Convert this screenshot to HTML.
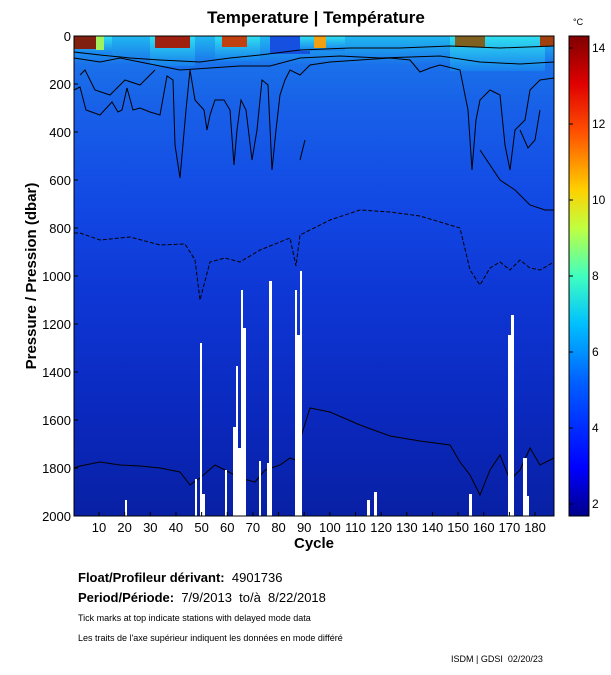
<!DOCTYPE html>
<html><head><style>
body{margin:0;background:#fff;width:611px;height:675px;overflow:hidden;font-family:"Liberation Sans",sans-serif}
.t{position:absolute;color:#000;white-space:nowrap}
</style></head><body>
<div style="position:relative;width:611px;height:675px">
<svg width="611" height="675" style="position:absolute;left:0;top:0" font-family="Liberation Sans, sans-serif">
<defs>
<linearGradient id="bg" x1="0" y1="0" x2="0" y2="1">
<stop offset="0" stop-color="#20b8f0"/>
<stop offset="0.06" stop-color="#1a70ea"/>
<stop offset="0.15" stop-color="#1860e8"/>
<stop offset="0.35" stop-color="#1248e4"/>
<stop offset="0.55" stop-color="#0e36d4"/>
<stop offset="0.8" stop-color="#0a28bc"/>
<stop offset="1" stop-color="#0820a4"/>
</linearGradient>
<linearGradient id="cb" x1="0" y1="1" x2="0" y2="0">
<stop offset="0" stop-color="#00008a"/>
<stop offset="0.1" stop-color="#0000ff"/>
<stop offset="0.28" stop-color="#0060ff"/>
<stop offset="0.4" stop-color="#00c0ff"/>
<stop offset="0.5" stop-color="#40ffc0"/>
<stop offset="0.6" stop-color="#c0ff40"/>
<stop offset="0.68" stop-color="#ffd000"/>
<stop offset="0.8" stop-color="#ff5000"/>
<stop offset="0.9" stop-color="#e00000"/>
<stop offset="1" stop-color="#800000"/>
</linearGradient>
<linearGradient id="top" x1="0" y1="0" x2="0" y2="1">
<stop offset="0" stop-color="#30e0f0"/>
<stop offset="1" stop-color="#1880ee"/>
</linearGradient>
</defs>
<rect x="74" y="36" width="480" height="480" fill="url(#bg)"/>
<rect x="74" y="36" width="38" height="18" fill="url(#top)"/>
<rect x="74" y="36" width="22" height="13" fill="#802010"/>
<rect x="96" y="36" width="8" height="14" fill="#a0f060"/>
<rect x="150" y="36" width="45" height="30" fill="url(#top)"/>
<rect x="155" y="36" width="35" height="12" fill="#a02010"/>
<rect x="215" y="36" width="45" height="25" fill="url(#top)"/>
<rect x="222" y="36" width="25" height="11" fill="#c04010"/>
<rect x="270" y="36" width="40" height="18" fill="#1650e0"/>
<rect x="300" y="36" width="45" height="15" fill="url(#top)"/>
<rect x="314" y="36" width="12" height="12" fill="#f0a010"/>
<rect x="450" y="36" width="95" height="35" fill="url(#top)"/>
<rect x="455" y="36" width="30" height="11" fill="#806020"/>
<rect x="540" y="36" width="14" height="10" fill="#a04010"/>
<g fill="none" stroke="#000" stroke-width="1">
<path d="M74 52 L100 55 L130 58 L160 60 L200 62 L230 58 L260 55 L300 50 L350 48 L400 48 L450 46 L500 48 L554 46"/>
<path d="M74 58 L100 62 L120 58 L150 64 L180 70 L210 68 L240 66 L270 66 L300 58 L340 56 L380 58 L440 56 L480 62 L520 64 L554 62"/>
<path d="M74 90 L80 87 L86 110 L100 115 L112 102 L118 112 L122 110 L127 88 L133 110 L140 108 L150 112 L160 115 L167 76 L173 80 L175 145 L180 178 L186 110 L190 70 L195 100 L204 110 L207 130 L210 115 L215 100 L224 100 L230 110 L234 165 L237 130 L241 100 L246 110 L252 160 L257 130 L262 80 L268 85 L272 170 L276 130 L280 95 L285 80 L290 70 L300 75 L310 65 L330 62 L360 60 L390 58 L410 60 L420 72 L430 68 L440 65 L460 70 L468 110 L472 170 L476 120 L480 100 L490 90 L500 95 L505 145 L510 170 L515 130 L525 120 L530 90 L540 80 L554 78"/>
<path d="M80 75 L85 70 L95 90 L110 95 L125 80 L140 85 L155 70"/>
<path d="M300 160 L305 140"/>
<path d="M520 130 L528 148 L535 140 L540 110"/>
<path d="M480 150 L490 165 L500 180 L515 190 L530 205 L545 210 L554 210"/>
<path d="M74 233 L80 233 L100 240 L130 237 L160 245 L185 244 L195 260 L200 300 L210 262 L225 258 L240 262 L260 250 L275 244 L290 238 L296 266 L300 235 L330 220 L360 210 L390 212 L420 216 L460 228 L470 270 L480 285 L490 268 L500 262 L510 270 L520 260 L530 268 L540 270 L554 262" stroke-dasharray="4,2"/>
<path d="M74 468 L80 466 L100 462 L120 465 L140 466 L160 468 L180 472 L190 485 L200 478 L215 465 L225 470 L240 478 L255 482 L265 470 L280 465 L290 458 L295 460 L300 440 L310 408 L330 412 L360 425 L390 436 L420 441 L450 445 L460 462 L470 475 L480 495 L490 470 L500 455 L510 480 L520 470 L530 448 L540 465 L554 458"/>
</g>
<g fill="#fff">
<rect x="195" y="479" width="2" height="37"/>
<rect x="200" y="343" width="2" height="173"/>
<rect x="202" y="494" width="3" height="22"/>
<rect x="225" y="470" width="2" height="46"/>
<rect x="233" y="427" width="3" height="89"/>
<rect x="236" y="366" width="2" height="150"/>
<rect x="238" y="448" width="3" height="68"/>
<rect x="241" y="290" width="2" height="226"/>
<rect x="243" y="328" width="3" height="188"/>
<rect x="259" y="461" width="2" height="55"/>
<rect x="267" y="463" width="2" height="53"/>
<rect x="269" y="281" width="3" height="235"/>
<rect x="295" y="290" width="2" height="226"/>
<rect x="297" y="335" width="3" height="181"/>
<rect x="300" y="271" width="2" height="245"/>
<rect x="125" y="500" width="2" height="16"/>
<rect x="367" y="500" width="3" height="16"/>
<rect x="374" y="492" width="3" height="24"/>
<rect x="469" y="494" width="3" height="22"/>
<rect x="508" y="335" width="3" height="181"/>
<rect x="511" y="315" width="3" height="201"/>
<rect x="523" y="458" width="4" height="58"/>
<rect x="527" y="496" width="2" height="20"/>
</g>
<rect x="74" y="36" width="480" height="480" fill="none" stroke="#000" stroke-width="1"/>
<g stroke="#000">
<line x1="74" y1="84" x2="78" y2="84"/><line x1="74" y1="132" x2="78" y2="132"/><line x1="74" y1="180" x2="78" y2="180"/><line x1="74" y1="228" x2="78" y2="228"/><line x1="74" y1="276" x2="78" y2="276"/><line x1="74" y1="324" x2="78" y2="324"/><line x1="74" y1="372" x2="78" y2="372"/><line x1="74" y1="420" x2="78" y2="420"/><line x1="74" y1="468" x2="78" y2="468"/>
</g>
<g font-size="13" text-anchor="end">
<text x="71" y="41">0</text><text x="71" y="89">200</text><text x="71" y="137">400</text><text x="71" y="185">600</text><text x="71" y="233">800</text><text x="71" y="281">1000</text><text x="71" y="329">1200</text><text x="71" y="377">1400</text><text x="71" y="425">1600</text><text x="71" y="473">1800</text><text x="71" y="521">2000</text>
</g>
<g font-size="13" text-anchor="middle" id="xt"></g>
<text x="0" y="0" font-size="15" font-weight="bold" text-anchor="middle" transform="translate(36 276) rotate(-90)">Pressure / Pression (dbar)</text>
<text x="314" y="548" font-size="15" font-weight="bold" text-anchor="middle">Cycle</text>
<text x="316" y="23" font-size="17" font-weight="bold" text-anchor="middle">Temperature | Température</text>
<rect x="569" y="36" width="20" height="480" fill="url(#cb)" stroke="#000"/>
<g stroke="#000">
<line x1="569" y1="48" x2="573" y2="48"/><line x1="569" y1="124" x2="573" y2="124"/><line x1="569" y1="200" x2="573" y2="200"/><line x1="569" y1="276" x2="573" y2="276"/><line x1="569" y1="352" x2="573" y2="352"/><line x1="569" y1="428" x2="573" y2="428"/><line x1="569" y1="504" x2="573" y2="504"/>
</g>
<g font-size="12">
<text x="592" y="52">14</text><text x="592" y="128">12</text><text x="592" y="204">10</text><text x="592" y="280">8</text><text x="592" y="356">6</text><text x="592" y="432">4</text><text x="592" y="508">2</text>
</g>
<text x="573" y="25" font-size="9">°C</text>
</svg>
<div class="t" style="left:78px;top:570px;font-size:13px;font-weight:bold">Float/Profileur dérivant: <span style="font-weight:normal">&nbsp;4901736</span></div>
<div class="t" style="left:78px;top:590px;font-size:13px;font-weight:bold">Period/Période: <span style="font-weight:normal">&nbsp;7/9/2013 &nbsp;to/à &nbsp;8/22/2018</span></div>
<div class="t" style="left:78px;top:613px;font-size:9px">Tick marks at top indicate stations with delayed mode data</div>
<div class="t" style="left:78px;top:633px;font-size:9px">Les traits de l'axe supérieur indiquent les données en mode différé</div>
<div class="t" style="left:451px;top:654px;font-size:9px">ISDM | GDSI &nbsp;02/20/23</div>
</div>
<script>
var g=document.getElementById('xt'),s='';
for(var k=1;k<=18;k++){var x=99+(k-1)*25.65;
s+='<line x1="'+x+'" y1="516" x2="'+x+'" y2="512" stroke="#000"/><text x="'+x+'" y="532">'+(k*10)+'</text>';}
g.innerHTML=s;
</script>
</body></html>
